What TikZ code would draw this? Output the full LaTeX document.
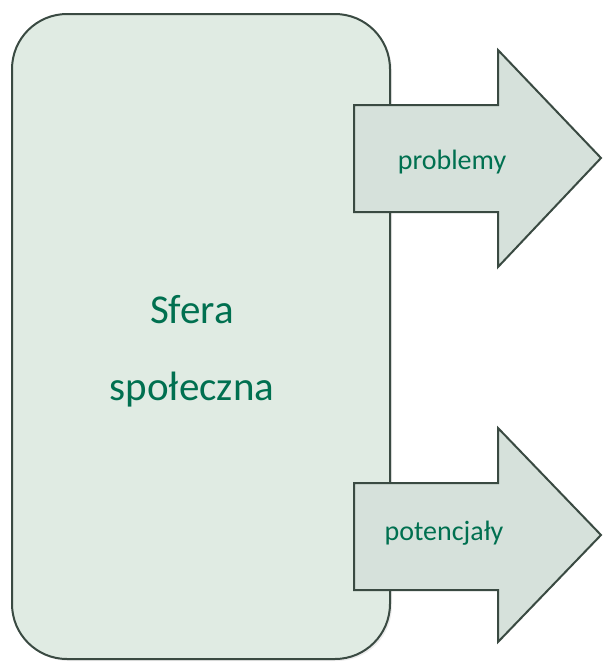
\documentclass[tikz,border=0pt]{standalone}
\usepackage{fontspec}
\setmainfont{Carlito}
\usetikzlibrary{shadows}
\definecolor{boxfill}{RGB}{224,235,227}
\definecolor{arrowfill}{RGB}{214,225,219}
\definecolor{edgegray}{RGB}{58,74,66}
\definecolor{textgreen}{RGB}{0,112,80}

\begin{document}
\begin{tikzpicture}[x=1pt,y=-1pt,
		sphere box/.style={draw=edgegray,fill=boxfill,line width=2pt,
			rounded corners=55pt,drop shadow={opacity=0.15,shadow xshift=2pt,shadow yshift=-2pt}},
		out arrow/.style={draw=edgegray,fill=arrowfill,line width=2pt,line join=miter},
		big text/.style={anchor=base,inner sep=0pt,text=textgreen,
			font=\fontsize{41}{49}\selectfont},
		small text/.style={anchor=base,inner sep=0pt,text=textgreen,
			font=\fontsize{28}{34}\selectfont}]
	\useasboundingbox (0,0) rectangle (604,662);
	
	% sfera
	\draw[sphere box] (12,14) rectangle (390,659);
	\node[big text] (sfera) at (192,323) {Sfera};
	\node[big text] (spoleczna) at (192,400) {społeczna};
	
	% strzalki
	\draw[out arrow] (354,105) -- (498,105) -- (498,50) -- (601,158)
		-- (498,267) -- (498,212) -- (354,212) -- cycle;
	\node[small text] (problemy) at (452,169) {problemy};
	
	\draw[out arrow] (354,483) -- (498,483) -- (498,428) -- (601,535)
		-- (498,642) -- (498,590) -- (354,590) -- cycle;
	\node[small text] (potencjaly) at (444,540) {potencjały};
\end{tikzpicture}
\end{document}
